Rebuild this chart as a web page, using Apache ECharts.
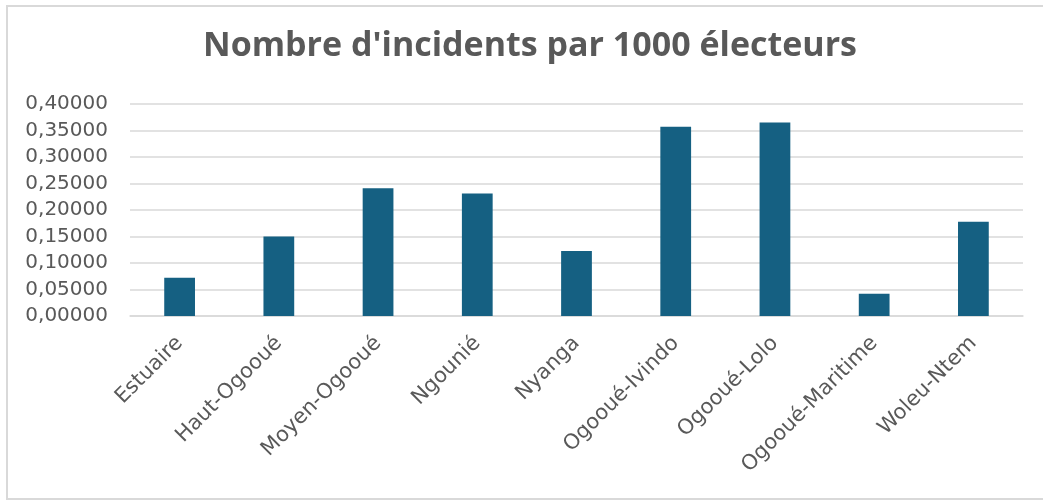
<!DOCTYPE html>
<html>
<head>
<meta charset="utf-8">
<script src="https://cdn.jsdelivr.net/npm/echarts@6/dist/echarts.min.js"></script>
<style>
html,body{margin:0;padding:0;background:#fff;overflow:hidden;width:1043px;height:500px;}
#wrap{position:absolute;left:6px;top:5px;width:1100px;height:495px;border:2px solid #d9d9d9;box-sizing:border-box;}
#chart{position:absolute;left:0;top:0;width:1043px;height:500px;}
</style>
</head>
<body>
<div id="wrap"></div>
<div id="chart"></div>
<script>
const categories = ['Estuaire','Haut-Ogooué','Moyen-Ogooué','Ngounié','Nyanga','Ogooué-Ivindo','Ogooué-Lolo','Ogooué-Maritime','Woleu-Ntem'];
const values = [0.072, 0.150, 0.241, 0.231, 0.1225, 0.357, 0.365, 0.042, 0.178];
const titleText = "Nombre d'incidents par 1000 électeurs";

const chart = echarts.init(document.getElementById('chart'));
chart.setOption({
  animation: false,
  title: {
    text: titleText,
    left: 525,
    textAlign: 'center',
    top: 24,
    textStyle: {fontFamily: 'Open Sans, sans-serif', fontSize: 34, fontWeight: 'bold', color: '#595959'}
  },
  grid: {left: 130, right: 20, top: 104, bottom: 184},
  xAxis: {
    type: 'category',
    data: categories,
    axisLine: {lineStyle: {color: '#d9d9d9', width: 1.5}},
    axisTick: {show: false},
    axisLabel: {rotate: 45, color: '#595959', fontSize: 21, fontFamily: 'DejaVu Sans, sans-serif', margin: 24, interval: 0}
  },
  yAxis: {
    type: 'value',
    min: 0, max: 0.4, interval: 0.05,
    axisLine: {show: false},
    axisTick: {show: false},
    splitLine: {lineStyle: {color: '#d9d9d9', width: 1.5}},
    axisLabel: {
      color: '#595959', fontSize: 20, fontFamily: 'DejaVu Sans, sans-serif', margin: 22,
      formatter: v => v.toFixed(5).replace('.', ',')
    }
  },
  series: [{
    type: 'bar',
    data: values,
    barWidth: '31%',
    itemStyle: {color: '#156082'}
  }]
});
</script>
</body>
</html>
